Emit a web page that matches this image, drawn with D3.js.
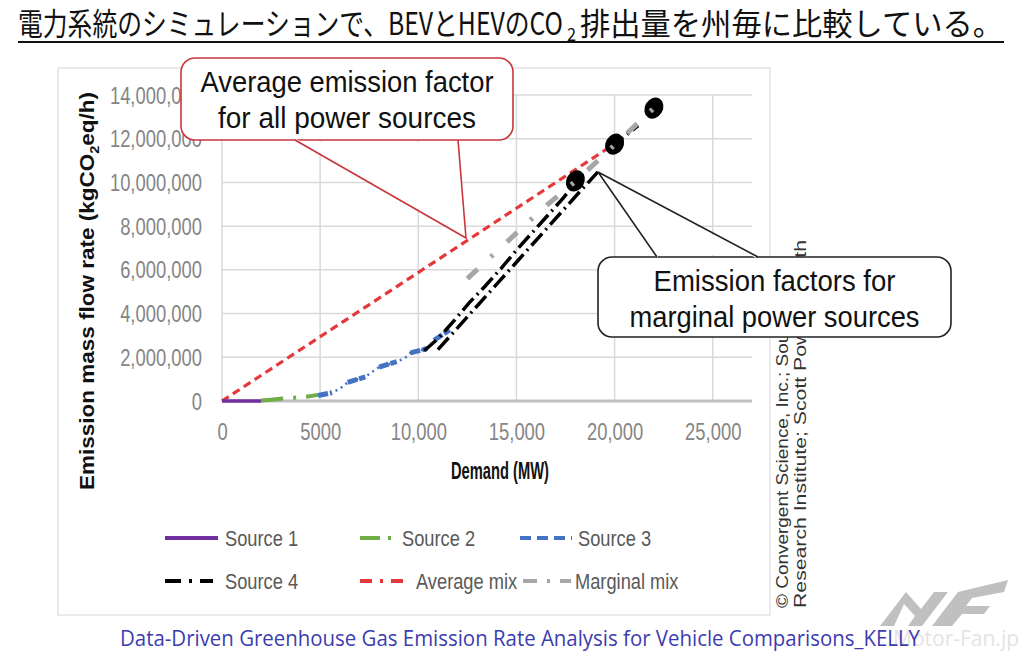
<!DOCTYPE html>
<html><head><meta charset="utf-8">
<script src="https://cdn.jsdelivr.net/npm/d3@7"></script>
<style>body{margin:0;background:#fff}svg{display:block}</style>
</head><body><svg id="c" width="1024" height="659"></svg>
<script>
// ---------- data ----------
const xTicks = [0, 5000, 10000, 15000, 20000, 25000];
const xTickLabels = ["0", "5000", "10,000", "15,000", "20,000", "25,000"];
const yTicks = [0, 2e6, 4e6, 6e6, 8e6, 10e6, 12e6, 14e6];
const yTickLabels = ["0", "2,000,000", "4,000,000", "6,000,000", "8,000,000", "10,000,000", "12,000,000", "14,000,000"];

const source1 = [[0, 0], [2000, 0]];
const source2 = [[2000, 20000], [2500, 60000], [3100, 110000], [3700, 150000], [4300, 190000], [4900, 280000]];
const source3 = [[4900, 270000], [5300, 330000], [5600, 380000], [6000, 560000], [6400, 850000], [6900, 1000000],
  [7300, 1100000], [7600, 1300000], [8000, 1550000], [8500, 1680000], [8900, 1800000], [9300, 1950000],
  [9600, 2200000], [10000, 2300000], [10450, 2400000], [10800, 2780000], [11200, 3000000], [11600, 3250000]];
const source3Steps = [
  [[4900, 250000], [5600, 380000]],
  [[6400, 850000], [7300, 1100000]],
  [[8000, 1550000], [8900, 1800000]],
  [[9600, 2200000], [10450, 2400000]],
  [[10800, 2780000], [11600, 3250000]]
];
const source4 = [
  [[10300, 2300000], [11000, 2850000], [11800, 3650000], [12600, 4500000], [13400, 5250000], [14200, 6050000],
   [15000, 6900000], [15800, 7700000], [16600, 8500000], [17400, 9300000], [18000, 10000000]],
  [[11000, 2350000], [11800, 3150000], [12600, 3950000], [13400, 4750000], [14200, 5550000], [15000, 6350000],
   [15800, 7150000], [16600, 7950000], [17400, 8750000], [18200, 9550000], [19150, 10480000]],
  [[19800, 11600000], [21200, 12600000]]
];
const averageMix = [[0, 0], [19900, 11700000]];
const marginalMix = [[12500, 5600000], [14600, 7350000], [16400, 8850000], [18200, 10200000], [20100, 11800000], [22000, 13400000]];
const peakPoints = [[18000, 10070000], [20000, 11750000], [22000, 13400000]];

const legendNames = ["Source 1", "Source 2", "Source 3", "Source 4", "Average mix", "Marginal mix"];
const titleParts = ["電力系統のシミュレーションで、BEVとHEVのCO", "2", "排出量を州毎に比較している。"];
const calloutAvg = ["Average emission factor", "for all power sources"];
const calloutMarg = ["Emission factors for", "marginal power sources"];
const copyrightLines = ["© Convergent Science, Inc.; Southwest", "Research Institute; Scott Powers; Keith"];
const captionText = "Data-Driven Greenhouse Gas Emission Rate Analysis for Vehicle Comparisons_KELLY";
const watermarkText = "Motor-Fan.jp";

// ---------- drawing ----------
const svg = d3.select("#c");
const SANS = "'Liberation Sans',Arial,sans-serif";
const x = d3.scaleLinear().domain([0, 27000]).range([222, 752]);
const y = d3.scaleLinear().domain([0, 14e6]).range([401, 95]);

function squeeze(sel, k) {
  sel.each(function () {
    const w = this.getComputedTextLength();
    d3.select(this).attr("textLength", w * k).attr("lengthAdjust", "spacingAndGlyphs");
  });
}

svg.append("rect").attr("width", 1024).attr("height", 659).attr("fill", "#fff");

// chart panel frame
svg.append("rect").attr("x", 58).attr("y", 68).attr("width", 712).attr("height", 547)
  .attr("fill", "none").attr("stroke", "#e4e4e4").attr("stroke-width", 1.5);

// title (three pieces)
const CJK = "'Noto Sans CJK JP',sans-serif";
svg.append("text").attr("x", 18).attr("y", 35).attr("font-family", CJK).attr("font-size", 31).attr("fill", "#111")
  .attr("textLength", 545).attr("lengthAdjust", "spacingAndGlyphs").text(titleParts[0]);
svg.append("text").attr("x", 567).attr("y", 41).attr("font-family", CJK).attr("font-size", 18).attr("fill", "#111")
  .attr("textLength", 9).attr("lengthAdjust", "spacingAndGlyphs").text(titleParts[1]);
svg.append("text").attr("x", 580).attr("y", 35).attr("font-family", CJK).attr("font-size", 31).attr("fill", "#111")
  .attr("textLength", 423).attr("lengthAdjust", "spacingAndGlyphs").text(titleParts[2]);
svg.append("line").attr("x1", 18).attr("x2", 1004).attr("y1", 42).attr("y2", 42).attr("stroke", "#111").attr("stroke-width", 2);

// gridlines
const g = svg.append("g");
g.selectAll(".hg").data(yTicks.filter(d => d > 0)).join("line")
  .attr("x1", x(0)).attr("x2", 752).attr("y1", d => y(d)).attr("y2", d => y(d))
  .attr("stroke", "#d9d9d9").attr("stroke-width", 1.5);
g.selectAll(".vg").data(xTicks).join("line")
  .attr("x1", d => x(d)).attr("x2", d => x(d)).attr("y1", y(14e6)).attr("y2", y(0))
  .attr("stroke", "#d9d9d9").attr("stroke-width", 1.5);

// axes
const xAxis = svg.append("g").attr("transform", `translate(0,${y(0)})`)
  .call(d3.axisBottom(x).tickValues(xTicks).tickFormat((d, i) => xTickLabels[i]).tickSize(0).tickPadding(23));
xAxis.select(".domain").remove();
xAxis.append("line").attr("x1", x(0)).attr("x2", 752).attr("stroke", "#bfbfbf").attr("stroke-width", 3);
xAxis.selectAll("text").attr("font-family", SANS).attr("font-size", 23).attr("fill", "#858585");
squeeze(xAxis.selectAll("text"), 0.8);

const yAxis = svg.append("g").attr("transform", `translate(${x(0)},0)`)
  .call(d3.axisLeft(y).tickValues(yTicks).tickFormat((d, i) => yTickLabels[i]).tickSize(0).tickPadding(20));
yAxis.select(".domain").remove();
yAxis.selectAll("text").attr("font-family", SANS).attr("font-size", 23).attr("fill", "#858585").attr("dy", "0.35em");
squeeze(yAxis.selectAll("text"), 0.8);

// axis titles
const yt = svg.append("text").attr("transform", "translate(94,291) rotate(-90)").attr("text-anchor", "middle")
  .attr("font-family", SANS).attr("font-weight", "bold").attr("font-size", 20).attr("fill", "#111")
  .attr("textLength", 398).attr("lengthAdjust", "spacingAndGlyphs");
yt.append("tspan").text("Emission mass flow rate  (kgCO");
yt.append("tspan").attr("dy", 5).attr("font-size", 13).text("2");
yt.append("tspan").attr("dy", -5).text("eq/h)");
svg.append("text").attr("x", 500).attr("y", 479).attr("text-anchor", "middle")
  .attr("font-family", SANS).attr("font-weight", "bold").attr("font-size", 23).attr("fill", "#111")
  .attr("textLength", 98).attr("lengthAdjust", "spacingAndGlyphs").text("Demand (MW)");

// series
const line = d3.line().x(d => x(d[0])).y(d => y(d[1]));
const plot = svg.append("g").attr("fill", "none").attr("stroke-linecap", "butt");
plot.append("path").attr("d", line(averageMix)).attr("stroke", "#e5383b").attr("stroke-width", 3.2).attr("stroke-dasharray", "8,5");
plot.append("path").attr("d", line(source1)).attr("stroke", "#7030a0").attr("stroke-width", 3.5);
plot.append("path").attr("d", line(source2)).attr("stroke", "#70ad47").attr("stroke-width", 4).attr("stroke-dasharray", "22,10,3,10");
plot.append("path").attr("d", line(source3)).attr("stroke", "#4472c4").attr("stroke-width", 2.5).attr("stroke-dasharray", "2,4");
source3Steps.forEach(s => plot.append("path").attr("d", line(s)).attr("stroke", "#4472c4").attr("stroke-width", 5).attr("stroke-dasharray", "10,2"));
source4.forEach(s => plot.append("path").attr("d", line(s)).attr("stroke", "#000").attr("stroke-width", 3.5).attr("stroke-dasharray", "16,5,2,5"));
plot.selectAll(".pk").data(peakPoints).join("ellipse")
  .attr("cx", d => x(d[0])).attr("cy", d => y(d[1])).attr("rx", 9).attr("ry", 11)
  .attr("transform", d => `rotate(30,${x(d[0])},${y(d[1])})`).attr("fill", "#000").attr("stroke", "none");
plot.append("path").attr("d", line(marginalMix)).attr("stroke", "#a6a6a6").attr("stroke-width", 5).attr("stroke-dasharray", "14,18,3,19");

// legend
const legStyles = [
  {c: "#7030a0", dash: null, x: 165, w: 53, tx: 225, row: 0},
  {c: "#70ad47", dash: "20,8,3,8", x: 360, w: 38, tx: 402, row: 0},
  {c: "#4472c4", dash: "11,6", x: 520, w: 52, tx: 578, row: 0},
  {c: "#000", dash: "16,8,3,8", x: 165, w: 48, tx: 225, row: 1},
  {c: "#e5383b", dash: "12,8,3,8", x: 360, w: 43, tx: 416, row: 1},
  {c: "#a6a6a6", dash: "14,10,3,10", x: 523, w: 48, tx: 575, row: 1}
];
const legY = [538, 581];
const leg = svg.append("g");
legendNames.forEach((n, i) => {
  const s = legStyles[i];
  leg.append("line").attr("x1", s.x).attr("x2", s.x + s.w).attr("y1", legY[s.row]).attr("y2", legY[s.row])
    .attr("stroke", s.c).attr("stroke-width", 4).attr("stroke-dasharray", s.dash);
  leg.append("text").attr("x", s.tx).attr("y", legY[s.row]).attr("dy", "0.35em")
    .attr("font-family", SANS).attr("font-size", 22).attr("fill", "#595959").text(n);
});
squeeze(leg.selectAll("text"), 0.83);

// copyright (rotated)
copyrightLines.forEach((l, i) => {
  svg.append("text").attr("transform", `translate(${788 + i * 18},608) rotate(-90)`)
    .attr("font-family", SANS).attr("font-size", 17).attr("fill", "#333")
    .attr("textLength", i === 0 ? 330 : 368).attr("lengthAdjust", "spacingAndGlyphs").text(l);
});

// callouts
function callout(box, wedge, color, lines, lens) {
  const c = svg.append("g");
  c.append("rect").attr("x", box.x).attr("y", box.y).attr("width", box.w).attr("height", box.h)
    .attr("rx", 14).attr("fill", "#fff").attr("stroke", color).attr("stroke-width", 1.6);
  c.append("polygon").attr("points", wedge.cover).attr("fill", "#fff");
  c.append("polyline").attr("points", wedge.pts).attr("fill", "none").attr("stroke", color).attr("stroke-width", 1.6);
  lines.forEach((l, i) => c.append("text").attr("x", box.x + box.w / 2).attr("y", box.y + 34 + i * 36)
    .attr("text-anchor", "middle").attr("font-family", SANS).attr("font-size", 29).attr("fill", "#111")
    .attr("textLength", lens[i]).attr("lengthAdjust", "spacingAndGlyphs").text(l));
}
callout({x: 181, y: 58, w: 332, h: 82},
  {pts: "295,140 466,238 458,140", cover: "296,139 466,236 457,139 457,142 296,142"},
  "#c8363a", calloutAvg, [293, 258]);
callout({x: 598, y: 257, w: 353, h: 80},
  {pts: "657,257 598,172 758,257", cover: "658,258 599,174 756,258 756,255 658,255"},
  "#222", calloutMarg, [242, 290]);

// watermark
const wm = svg.append("g").attr("fill", "#c0c0c0");
wm.append("polygon").attr("points", "880,626 906,592 921,609 934,592 948,592 922,626 908,626 915,616 904,604 894,626");
wm.append("polygon").attr("points", "932,626 958,592 1008,580 1004,592 972,598 966,606 990,606 984,614 962,614 952,626");
svg.append("text").attr("x", 893).attr("y", 646).attr("font-family", "'Open Sans',sans-serif").attr("font-size", 21)
  .attr("fill", "#e4e4e4").text(watermarkText);

// caption
svg.append("text").attr("x", 120).attr("y", 646)
  .attr("font-family", "'Open Sans',sans-serif").attr("font-size", 21).attr("fill", "#3c3cb0")
  .attr("textLength", 800).attr("lengthAdjust", "spacingAndGlyphs").text(captionText);
</script></body></html>
